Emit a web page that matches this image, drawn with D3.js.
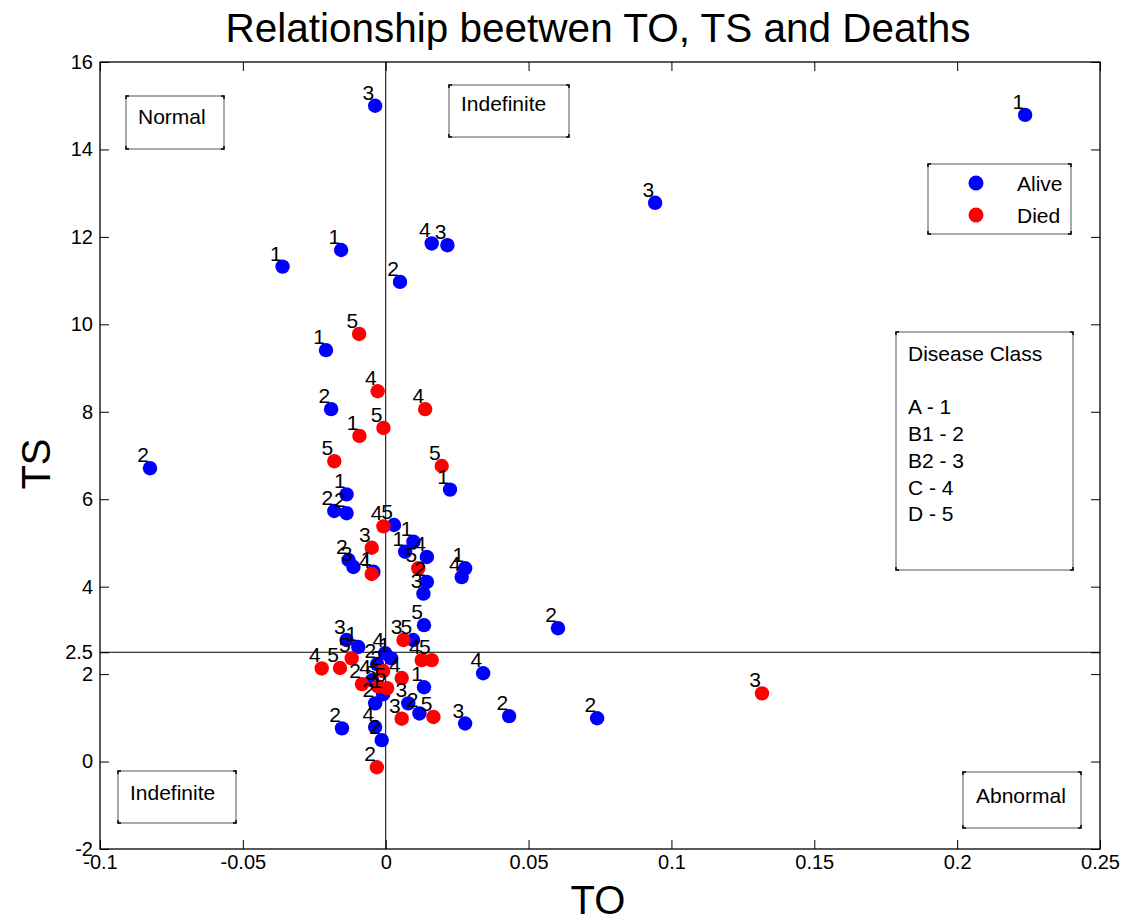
<!DOCTYPE html>
<html>
<head>
<meta charset="utf-8">
<script src="https://cdn.jsdelivr.net/npm/d3@7"></script>
<style>
  html, body { margin: 0; padding: 0; background: #fff; }
  svg { display: block; font-family: "Liberation Sans", Arial, sans-serif; }
</style>
</head>
<body>
<svg id="chart" width="1131" height="922"></svg>
<script>
// ---------------- DATA ----------------
const titleText = "Relationship beetwen TO, TS and Deaths";
const xLabel = "TO";
const yLabel = "TS";

const xTicks = [-0.1, -0.05, 0, 0.05, 0.1, 0.15, 0.2, 0.25];
const xTickLabels = ["-0.1", "-0.05", "0", "0.05", "0.1", "0.15", "0.2", "0.25"];
const yTicks = [-2, 0, 2, 2.5, 4, 6, 8, 10, 12, 14, 16];
const yTickLabels = ["-2", "0", "2", "2.5", "4", "6", "8", "10", "12", "14", "16"];

const refX = 0;     // vertical reference line
const refY = 2.5;   // horizontal reference line

// Alive (blue)
const aliveTO = [-0.0037, 0.2238, 0.0943, 0.0161, 0.0216, -0.0156, -0.0361, 0.0050, -0.0209, -0.0191,
  -0.0825, 0.0225, -0.0137, -0.0180, -0.0137, 0.0029, 0.0097, 0.0068, 0.0144, 0.0144,
  0.0132, 0.0266, 0.0278, -0.0130, -0.0113, -0.0043, 0.0134, 0.0603, -0.0137, -0.0096,
  0.0096, -0.0002, 0.0019, -0.0030, -0.0048, -0.0009, -0.0037, 0.0134, 0.0079, 0.0118,
  0.0278, 0.0341, 0.0432, 0.0740, -0.0153, -0.0037, -0.0014];
const aliveTS = [15.00, 14.79, 12.78, 11.85, 11.81, 11.70, 11.32, 10.97, 9.41, 8.06,
  6.71, 6.22, 6.11, 5.73, 5.68, 5.41, 5.03, 4.80, 4.68, 4.11,
  3.84, 4.22, 4.42, 4.61, 4.45, 4.34, 3.12, 3.05, 2.78, 2.62,
  2.78, 2.48, 2.36, 2.23, 1.86, 1.54, 1.33, 1.70, 1.33, 1.10,
  0.87, 2.02, 1.04, 0.99, 0.76, 0.79, 0.49];
const aliveClass = [3, 1, 3, 4, 3, 1, 1, 2, 1, 2,
  2, 1, 1, 2, 2, 5, 1, 1, 4, 2,
  3, 4, 1, 2, 3, 1, 5, 2, 3, 1,
  5, 4, 1, 2, 4, 1, 2, 1, 3, 2,
  3, 4, 2, 2, 2, 4, 2];

// Died (red)
const diedTO = [-0.0093, -0.0028, 0.0138, -0.0008, -0.0092, -0.0180, 0.0196, -0.0008, -0.0049, -0.0049,
  0.0114, 0.0062, -0.0119, -0.0160, -0.0224, 0.0126, 0.0161, 0.0056, -0.0083, -0.0027,
  0.0005, -0.0009, 0.0056, 0.0167, 0.1317, -0.0031];
const diedTS = [9.78, 8.47, 8.06, 7.63, 7.45, 6.87, 6.76, 5.38, 4.89, 4.29,
  4.42, 2.78, 2.36, 2.14, 2.13, 2.32, 2.32, 1.91, 1.77, 1.72,
  1.68, 2.07, 0.98, 1.02, 1.56, -0.13];
const diedClass = [5, 4, 4, 5, 1, 5, 5, 4, 3, 4,
  5, 3, 5, 5, 4, 4, 5, 4, 2, 5,
  5, 2, 3, 5, 3, 2];

const legendNames = ["Alive", "Died"];
const legendColors = ["#0000ff", "#ff0000"];
const classLegend = ["Disease Class", "", "A - 1", "B1 - 2", "B2 - 3", "C - 4", "D - 5"];
const regionNames = ["Normal", "Indefinite", "Indefinite", "Abnormal"];

// ---------------- LAYOUT ----------------
const svg = d3.select("#chart");
const L = 100, R = 1100, T = 62, B = 849;
const x = d3.scaleLinear().domain([-0.1, 0.25]).range([L, R]);
const y = d3.scaleLinear().domain([-2, 16]).range([B, T]);
const tick = 9;
const fontTick = 20;
const fontBox = 21;

// title
svg.append("text").attr("x", 598).attr("y", 42).attr("text-anchor", "middle")
  .attr("font-size", 40.5).text(titleText);

// axes
const axB = d3.axisBottom(x).tickValues(xTicks).tickFormat((d, i) => xTickLabels[i])
  .tickSizeInner(-tick).tickSizeOuter(0).tickPadding(6);
const axL = d3.axisLeft(y).tickValues(yTicks).tickFormat((d, i) => yTickLabels[i])
  .tickSizeInner(-tick).tickSizeOuter(0).tickPadding(7);
const axT = d3.axisTop(x).tickValues(xTicks).tickFormat("").tickSizeInner(-tick).tickSizeOuter(0);
const axR = d3.axisRight(y).tickValues(yTicks).tickFormat("").tickSizeInner(-tick).tickSizeOuter(0);

function style(g) {
  g.select(".domain").remove();
  g.selectAll("line").attr("stroke", "#000").attr("stroke-width", 1);
  g.selectAll("text").attr("font-size", fontTick).attr("fill", "#000")
    .attr("font-family", "Liberation Sans, Arial, sans-serif");
}
svg.append("g").attr("transform", `translate(0,${B})`).call(axB).call(style);
svg.append("g").attr("transform", `translate(${L},0)`).call(axL).call(style);
svg.append("g").attr("transform", `translate(0,${T})`).call(axT).call(style);
svg.append("g").attr("transform", `translate(${R},0)`).call(axR).call(style);

// box
svg.append("rect").attr("x", L).attr("y", T).attr("width", R - L).attr("height", B - T)
  .attr("fill", "none").attr("stroke", "#000").attr("stroke-width", 1.3);

// reference lines
svg.append("line").attr("x1", x(refX)).attr("x2", x(refX)).attr("y1", T).attr("y2", B)
  .attr("stroke", "#000").attr("stroke-width", 1);
svg.append("line").attr("x1", L).attr("x2", R).attr("y1", y(refY)).attr("y2", y(refY))
  .attr("stroke", "#000").attr("stroke-width", 1);

// axis labels
svg.append("text").attr("x", 598).attr("y", 914).attr("text-anchor", "middle")
  .attr("font-size", 40).text(xLabel);
svg.append("text").attr("transform", "translate(50,464) rotate(-90)").attr("text-anchor", "middle")
  .attr("font-size", 40).text(yLabel);

// points
const alive = aliveTO.map((d, i) => ({ x: d, y: aliveTS[i], c: aliveClass[i], col: legendColors[0] }));
const died = diedTO.map((d, i) => ({ x: d, y: diedTS[i], c: diedClass[i], col: legendColors[1] }));
const all = alive.concat(died);

const gp = svg.append("g");
gp.selectAll("circle").data(all).enter().append("circle")
  .attr("cx", d => x(d.x)).attr("cy", d => y(d.y)).attr("r", 7.2)
  .attr("fill", d => d.col);
gp.selectAll("text").data(all).enter().append("text")
  .attr("x", d => x(d.x) - 1).attr("y", d => y(d.y) - 6)
  .attr("text-anchor", "end").attr("font-size", 21).attr("fill", "#000")
  .text(d => d.c);

// annotation text boxes
function textBox(x0, y0, x1, y1) {
  const g = svg.append("g");
  g.append("rect").attr("x", x0).attr("y", y0).attr("width", x1 - x0).attr("height", y1 - y0)
    .attr("fill", "#fff").attr("stroke", "#555").attr("stroke-width", 1);
  const c = 3;
  const path = `M${x0},${y0 + c}V${y0}H${x0 + c} M${x1 - c},${y0}H${x1}V${y0 + c} M${x1},${y1 - c}V${y1}H${x1 - c} M${x0 + c},${y1}H${x0}V${y1 - c}`;
  g.append("path").attr("d", path).attr("fill", "none").attr("stroke", "#000").attr("stroke-width", 1.5);
  return g;
}
const boxes = [[126, 96, 224, 149, 138, 124], [449, 85, 569, 137, 461, 111], [118, 771, 236, 823, 130, 800], [963, 772, 1081, 828, 976, 803]];
boxes.forEach((b, i) => {
  const g = textBox(b[0], b[1], b[2], b[3]);
  g.append("text").attr("x", b[4]).attr("y", b[5]).attr("font-size", fontBox).text(regionNames[i]);
});

// legend
const lg = textBox(928, 164, 1071, 234);
legendNames.forEach((n, i) => {
  lg.append("circle").attr("cx", 976).attr("cy", 183 + i * 32).attr("r", 7.5).attr("fill", legendColors[i]);
  lg.append("text").attr("x", 1017).attr("y", 191 + i * 32).attr("font-size", fontBox).text(n);
});

// disease class box
const dg = textBox(896, 332, 1073, 570);
classLegend.forEach((t, i) => {
  dg.append("text").attr("x", 908).attr("y", 361 + i * 26.7).attr("font-size", fontBox).text(t);
});
</script>
</body>
</html>
